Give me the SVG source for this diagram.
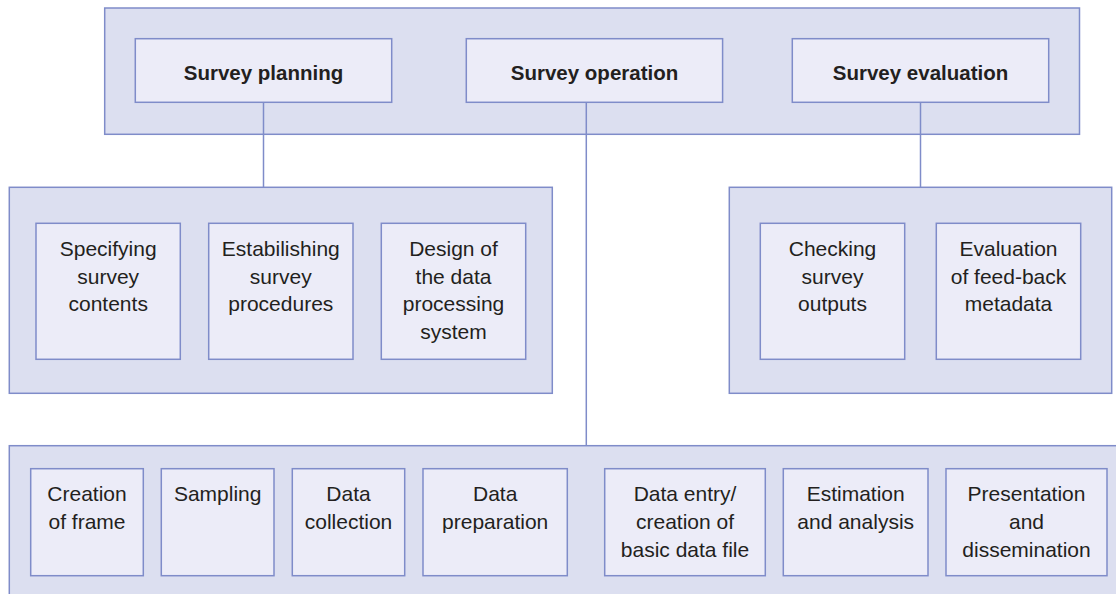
<svg xmlns="http://www.w3.org/2000/svg" width="1116" height="594" viewBox="0 0 1116 594">
<style>
.cont{fill:#dcdff0;stroke:#7f8cc9;stroke-width:1.5}
.box{fill:#ececf8;stroke:#7f8cc9;stroke-width:1.5}
.ln{stroke:#7f8cc9;stroke-width:1.5;fill:none}
text{font-family:"Liberation Sans",Arial,sans-serif;font-size:21px;fill:#231f20;text-anchor:middle}
.b{font-weight:bold;font-size:20.5px}
</style>
<rect width="1116" height="594" fill="#ffffff"/>
<g id="top-container"><rect class="cont" x="104.7" y="8" width="974.8" height="126.3"/></g>
<g id="middle-left-container"><rect class="cont" x="9.3" y="187.3" width="543" height="206"/></g>
<g id="middle-right-container"><rect class="cont" x="729.3" y="187.3" width="382.4" height="206"/></g>
<g id="bottom-container"><rect class="cont" x="9.3" y="445.7" width="1120" height="160"/></g>
<g id="connectors">
<line class="ln" x1="263.5" y1="102.3" x2="263.5" y2="187.3"/>
<line class="ln" x1="586.3" y1="102.3" x2="586.3" y2="445.7"/>
<line class="ln" x1="920.5" y1="102.3" x2="920.5" y2="187.3"/>
</g>
<g id="survey-planning"><rect class="box" x="135.3" y="38.7" width="256.4" height="63.6"/><text class="b" x="263.5" y="80">Survey planning</text></g>
<g id="survey-operation"><rect class="box" x="466.3" y="38.7" width="256.3" height="63.6"/><text class="b" x="594.5" y="80">Survey operation</text></g>
<g id="survey-evaluation"><rect class="box" x="792.3" y="38.7" width="256.4" height="63.6"/><text class="b" x="920.5" y="80">Survey evaluation</text></g>
<g id="specifying"><rect class="box" x="36" y="223.3" width="144.3" height="136"/><text x="108.2" y="256">Specifying</text><text x="108.2" y="283.7">survey</text><text x="108.2" y="311.4">contents</text></g>
<g id="establishing"><rect class="box" x="208.7" y="223.3" width="144.3" height="136"/><text x="280.8" y="256">Estabilishing</text><text x="280.8" y="283.7">survey</text><text x="280.8" y="311.4">procedures</text></g>
<g id="design"><rect class="box" x="381.3" y="223.3" width="144.4" height="136"/><text x="453.5" y="256">Design of</text><text x="453.5" y="283.7">the data</text><text x="453.5" y="311.4">processing</text><text x="453.5" y="339.1">system</text></g>
<g id="checking"><rect class="box" x="760.3" y="223.3" width="144.4" height="136"/><text x="832.5" y="256">Checking</text><text x="832.5" y="283.7">survey</text><text x="832.5" y="311.4">outputs</text></g>
<g id="evaluation-feedback"><rect class="box" x="936.3" y="223.3" width="144.4" height="136"/><text x="1008.5" y="256">Evaluation</text><text x="1008.5" y="283.7">of feed-back</text><text x="1008.5" y="311.4">metadata</text></g>
<g id="creation-frame"><rect class="box" x="30.7" y="468.7" width="112.6" height="107"/><text x="87" y="501">Creation</text><text x="87" y="528.8">of frame</text></g>
<g id="sampling"><rect class="box" x="161.3" y="468.7" width="112.7" height="107"/><text x="217.7" y="501">Sampling</text></g>
<g id="data-collection"><rect class="box" x="292.3" y="468.7" width="112.4" height="107"/><text x="348.5" y="501">Data</text><text x="348.5" y="528.8">collection</text></g>
<g id="data-preparation"><rect class="box" x="423" y="468.7" width="144.3" height="107"/><text x="495.2" y="501">Data</text><text x="495.2" y="528.8">preparation</text></g>
<g id="data-entry"><rect class="box" x="604.7" y="468.7" width="160.6" height="107"/><text x="685" y="501">Data entry/</text><text x="685" y="528.8">creation of</text><text x="685" y="556.6">basic data file</text></g>
<g id="estimation"><rect class="box" x="783.3" y="468.7" width="144.7" height="107"/><text x="855.7" y="501">Estimation</text><text x="855.7" y="528.8">and analysis</text></g>
<g id="presentation"><rect class="box" x="946" y="468.7" width="161" height="107"/><text x="1026.5" y="501">Presentation</text><text x="1026.5" y="528.8">and</text><text x="1026.5" y="556.6">dissemination</text></g>
</svg>
